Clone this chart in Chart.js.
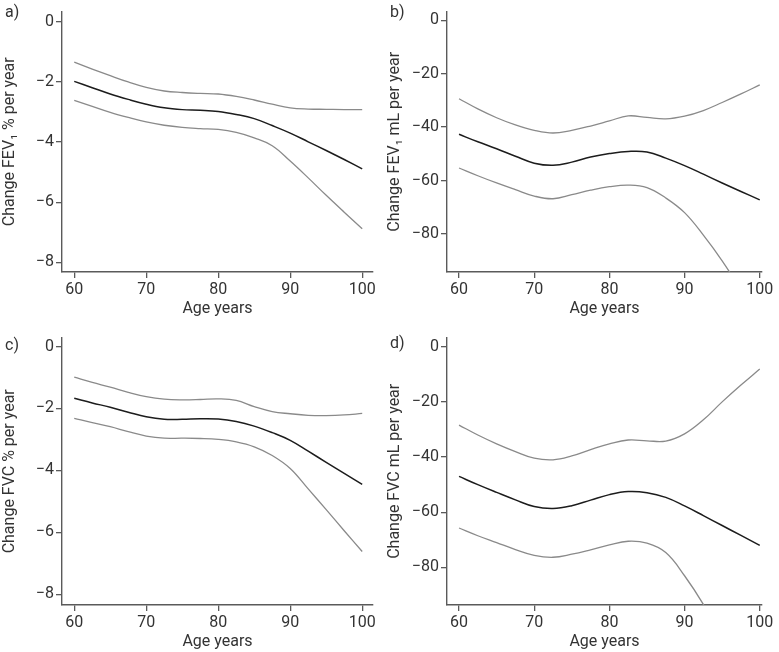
<!DOCTYPE html>
<html>
<head>
<meta charset="utf-8">
<script src="https://cdn.jsdelivr.net/npm/chart.js@4.4.1/dist/chart.umd.min.js"></script>
<style>
  body { margin: 0; background: #fff; width: 779px; height: 652px; position: relative; overflow: hidden; font-family: Roboto, sans-serif; }
  canvas { position: absolute; }
  .lbl { position: absolute; font-size: 16px; color: #333; line-height: 16px; }
</style>
</head>
<body>
<canvas id="pa" width="390" height="326" style="left:0;top:0"></canvas>
<canvas id="pb" width="399" height="326" style="left:380px;top:0"></canvas>
<canvas id="pc" width="390" height="326" style="left:0;top:326px"></canvas>
<canvas id="pd" width="399" height="326" style="left:380px;top:326px"></canvas>
<div class="lbl" style="left:5px;top:4px">a)</div>
<div class="lbl" style="left:390px;top:4px">b)</div>
<div class="lbl" style="left:5px;top:337px">c)</div>
<div class="lbl" style="left:390px;top:335px">d)</div>
<script>
// ages read on the x axis
const ages = [60, 62.5, 65, 67.5, 70, 72.5, 75, 77.5, 80, 82.5, 85, 87.5, 90, 92.5, 95, 97.5, 100];
const xTicks = [60, 70, 80, 90, 100];
const pctTicks = [0, -2, -4, -6, -8];
const mlTicks = [0, -20, -40, -60, -80];

// a) FEV1 % per year
const fev1PctUpper = [-1.34, -1.57, -1.79, -2.00, -2.18, -2.30, -2.35, -2.38, -2.40, -2.48, -2.60, -2.74, -2.86, -2.90, -2.91, -2.92, -2.92];
const fev1PctMid = [-1.98, -2.19, -2.40, -2.58, -2.74, -2.86, -2.92, -2.94, -2.98, -3.08, -3.22, -3.45, -3.70, -3.99, -4.28, -4.58, -4.89];
const fev1PctLower = [-2.61, -2.81, -3.01, -3.18, -3.33, -3.44, -3.51, -3.55, -3.58, -3.68, -3.86, -4.12, -4.63, -5.19, -5.77, -6.33, -6.88];

// b) FEV1 mL per year
const fev1MlUpper = [-29.4, -33.2, -36.5, -39.2, -41.2, -42.2, -41.2, -39.6, -37.7, -35.8, -36.4, -36.9, -35.9, -33.8, -30.8, -27.6, -24.2];
const fev1MlMid = [-42.7, -45.5, -48.1, -50.9, -53.5, -54.3, -53.1, -51.2, -49.9, -49.1, -49.3, -51.6, -54.4, -57.6, -60.9, -64.1, -67.2];
const fev1MlLower = [-55.3, -58.2, -60.9, -63.4, -65.8, -66.8, -65.3, -63.6, -62.3, -61.7, -62.6, -66.5, -72.0, -80.4, -90.0, -101, -113];

// c) FVC % per year
const fvcPctUpper = [-0.99, -1.16, -1.31, -1.48, -1.62, -1.70, -1.72, -1.71, -1.69, -1.74, -1.94, -2.10, -2.17, -2.22, -2.23, -2.21, -2.16];
const fvcPctMid = [-1.67, -1.82, -1.96, -2.12, -2.27, -2.35, -2.35, -2.33, -2.34, -2.42, -2.57, -2.78, -3.03, -3.38, -3.74, -4.10, -4.45];
const fvcPctLower = [-2.32, -2.46, -2.59, -2.75, -2.89, -2.96, -2.96, -2.97, -3.00, -3.08, -3.24, -3.52, -3.94, -4.60, -5.27, -5.95, -6.62];

// d) FVC mL per year
const fvcMlUpper = [-28.4, -32.0, -35.2, -38.0, -40.4, -41.0, -39.6, -37.3, -35.2, -33.8, -34.1, -34.2, -31.6, -26.5, -20.0, -13.9, -8.1];
const fvcMlMid = [-47.0, -50.0, -52.8, -55.5, -57.9, -58.6, -57.6, -55.6, -53.6, -52.5, -52.9, -54.6, -57.7, -61.2, -64.8, -68.4, -72.0];
const fvcMlLower = [-65.7, -68.5, -71.0, -73.5, -75.6, -76.3, -75.2, -73.6, -71.8, -70.5, -71.2, -74.6, -83.0, -93.4, -106, -120, -135];

const axisColor = '#5a5a5a';
const textColor = '#333';
const font = { family: 'Roboto, sans-serif', size: 16 };

function pts(arr) {
    return ages.map((a, i) => ({ x: a, y: arr[i] }));
}

function fmt(v) {
    return v < 0 ? '\u2212' + Math.abs(v) : String(v);
}

function panel(id, yTitle, upper, mid, lower, yTicks, o) {
    const band = { borderColor: '#8a8a8a', borderWidth: 1.3 };
    const line = { borderColor: '#1c1c1c', borderWidth: 1.5 };
    new Chart(document.getElementById(id), {
        type: 'line',
        data: {
            datasets: [
                Object.assign({ data: pts(upper) }, band),
                Object.assign({ data: pts(mid) }, line),
                Object.assign({ data: pts(lower) }, band)
            ]
        },
        options: {
            responsive: false,
            animation: false,
            devicePixelRatio: 1,
            elements: { point: { radius: 0 }, line: { tension: 0.4 } },
            layout: { padding: { top: o.top, right: o.right, left: 0, bottom: 0 } },
            plugins: { legend: { display: false }, tooltip: { enabled: false } },
            scales: {
                x: {
                    type: 'linear',
                    min: o.xMin,
                    max: o.xMax,
                    afterBuildTicks: s => { s.ticks = xTicks.map(v => ({ value: v })); },
                    afterFit: s => { s.height = o.xHeight; },
                    grid: { drawOnChartArea: false, color: axisColor, tickLength: 6, lineWidth: 1.3 },
                    border: { color: axisColor, width: 1.4 },
                    ticks: { autoSkip: false, maxRotation: 0, padding: 2, color: textColor, font: font, callback: fmt },
                    title: { display: true, text: 'Age years', color: textColor, font: font, padding: { top: 0, bottom: o.xTitlePad } }
                },
                y: {
                    type: 'linear',
                    min: o.yMin,
                    max: o.yMax,
                    afterBuildTicks: s => { s.ticks = yTicks.map(v => ({ value: v })); },
                    afterFit: s => { s.width = o.yWidth; },
                    grid: { drawOnChartArea: false, color: axisColor, tickLength: 6, lineWidth: 1.3 },
                    border: { color: axisColor, width: 1.4 },
                    ticks: { autoSkip: false, padding: 2, color: textColor, font: font, callback: fmt },
                    title: { display: true, text: yTitle, color: textColor, font: font, padding: { top: o.titlePad, bottom: 0 } }
                }
            }
        }
    });
}

panel('pa', 'Change FEV\u2081 % per year', fev1PctUpper, fev1PctMid, fev1PctLower, pctTicks,
    { top: 0, right: 17, yWidth: 62, xHeight: 54, xTitlePad: 7, titlePad: 0, xMin: 58.3, xMax: 101.5, yMin: -8.32, yMax: 0.34 });
panel('pb', 'Change FEV\u2081 mL per year', fev1MlUpper, fev1MlMid, fev1MlLower, mlTicks,
    { top: 0, right: 17, yWidth: 67, xHeight: 54, xTitlePad: 7, titlePad: 5, xMin: 58.4, xMax: 100.3, yMin: -94.2, yMax: 3.2 });
panel('pc', 'Change FVC % per year', fvcPctUpper, fvcPctMid, fvcPctLower, pctTicks,
    { top: 8, right: 17, yWidth: 62, xHeight: 47, xTitlePad: 0, titlePad: 0, xMin: 58.3, xMax: 101.5, yMin: -8.35, yMax: 0.29 });
panel('pd', 'Change FVC mL per year', fvcMlUpper, fvcMlMid, fvcMlLower, mlTicks,
    { top: 8, right: 17, yWidth: 67, xHeight: 47, xTitlePad: 0, titlePad: 5, xMin: 58.4, xMax: 100.3, yMin: -93.6, yMax: 3.3 });
</script>
</body>
</html>
